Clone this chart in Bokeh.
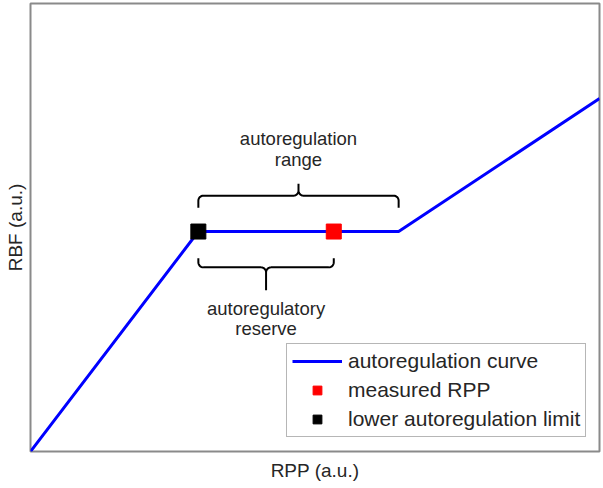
import numpy as np
from bokeh.plotting import figure
from bokeh.models import Range1d, FixedTicker, Legend, LegendItem
from bokeh.core.properties import value
from bokeh.embed import file_html
from bokeh.resources import INLINE

# ---- data (arbitrary units) ----
curve_rpp = [0, 29.5, 64.7, 100]
curve_rbf = [0, 49.1, 49.1, 78.8]
lower_limit_rpp = [29.5]
lower_limit_rbf = [49.1]
measured_rpp = [53.3]
measured_rbf = [49.1]
range_span = [29.5, 64.7]      # autoregulation range
reserve_span = [29.5, 53.3]    # autoregulatory reserve
range_text = ["autoregulation", "range"]
reserve_text = ["autoregulatory", "reserve"]
legend_labels = ["autoregulation curve", "measured RPP", "lower autoregulation limit"]
x_label = "RPP (a.u.)"
y_label = "RBF (a.u.)"

FONT = "Liberation Sans"
TXT = "#262626"

W, H = 603, 488
ML, MR, MT, MB = 30, 4, 3, 37
FW, FH = W - ML - MR, H - MT - MB
X_END, Y_END = 100, 100
ux = X_END / FW   # data units per pixel
uy = Y_END / FH

p = figure(width=W, height=H, output_backend="svg", toolbar_location=None,
           x_range=Range1d(0, X_END), y_range=Range1d(0, Y_END),
           min_border_left=ML, min_border_right=MR, min_border_top=MT, min_border_bottom=MB)
p.background_fill_color = "white"
p.border_fill_color = "white"
p.grid.visible = False
p.outline_line_color = "#8a8a8a"
p.outline_line_width = 2
for ax in (p.xaxis, p.yaxis):
    ax.ticker = FixedTicker(ticks=[])
    ax.axis_line_color = None
    ax.major_tick_line_color = None
    ax.minor_tick_line_color = None
    ax.major_tick_out = 0
    ax.major_tick_in = 0
    ax.minor_tick_out = 0
    ax.minor_tick_in = 0
    ax.major_label_standoff = 0
    ax.major_label_text_font_size = "0px"
    ax.axis_label_text_font = FONT
    ax.axis_label_text_font_size = "19px"
    ax.axis_label_text_font_style = "normal"
    ax.axis_label_text_color = TXT
p.xaxis.axis_label = x_label
p.yaxis.axis_label = y_label
p.xaxis.axis_label_standoff = 8
p.yaxis.axis_label_standoff = 5


def brace(x0, x1, y, d, h_end, h_tip, r=5, xc=None):
    """curly brace; d=+1 tip up, d=-1 tip down (pixel offsets converted)."""
    if xc is None:
        xc = (x0 + x1) / 2
    rx, ry = r * ux, r * uy
    he, ht = h_end * uy, h_tip * uy
    t = np.linspace(0, np.pi / 2, 8)
    xs, ys = [x0], [y - d * he]
    xs += list(x0 + rx - rx * np.cos(t)); ys += list(y - d * ry + d * ry * np.sin(t))
    xs += list(xc - rx + rx * np.sin(t)); ys += list(y + d * ry - d * ry * np.cos(t))
    xs += [xc]; ys += [y + d * ht]
    xs += list(xc + rx - rx * np.sin(t[::-1])); ys += list(y + d * ry - d * ry * np.cos(t[::-1]))
    xs += list(x1 - rx + rx * np.cos(t[::-1])); ys += list(y - d * ry + d * ry * np.sin(t[::-1]))
    xs += [x1]; ys += [y - d * he]
    return xs, ys


# braces
bx, by = brace(range_span[0], range_span[1], 57.1, +1, 12, 12)
p.line(bx, by, line_color="black", line_width=2)
bx2, by2 = brace(reserve_span[0], reserve_span[1], 41.1, -1, 9, 23)
p.line(bx2, by2, line_color="black", line_width=2)

# brace texts
cx_range = sum(range_span) / 2
cx_res = sum(reserve_span) / 2
p.text(x=[cx_range] * 2, y=[69.8, 65.2], text=range_text, text_align="center",
       text_baseline="middle", text_font=value(FONT), text_font_size="18.5px", text_color=TXT)
p.text(x=[cx_res] * 2, y=[32.0, 27.5], text=reserve_text, text_align="center",
       text_baseline="middle", text_font=value(FONT), text_font_size="18.5px", text_color=TXT)

# curve and markers
r_curve = p.line(curve_rpp, curve_rbf, line_color="#0000ff", line_width=3)
r_meas = p.scatter(measured_rpp, measured_rbf, marker="square", size=15,
                   fill_color="#ff0000", line_color="#ff0000")
r_low = p.scatter(lower_limit_rpp, lower_limit_rbf, marker="square", size=15,
                  fill_color="black", line_color="black")

legend = Legend(items=[LegendItem(label=legend_labels[0], renderers=[r_curve]),
                       LegendItem(label=legend_labels[1], renderers=[r_meas]),
                       LegendItem(label=legend_labels[2], renderers=[r_low])],
                location=(256, 14))
legend.label_text_font = FONT
legend.label_text_font_size = "21px"
legend.label_text_color = TXT
legend.glyph_width = 50
legend.glyph_height = 22
legend.label_height = 22
legend.label_standoff = 6
legend.spacing = 5
legend.padding = 5
legend.margin = 0
legend.border_line_color = "#6e6e6e"
legend.border_line_width = 1
legend.background_fill_alpha = 1
p.add_layout(legend)

open("out.html", "w").write(file_html(p, INLINE))
